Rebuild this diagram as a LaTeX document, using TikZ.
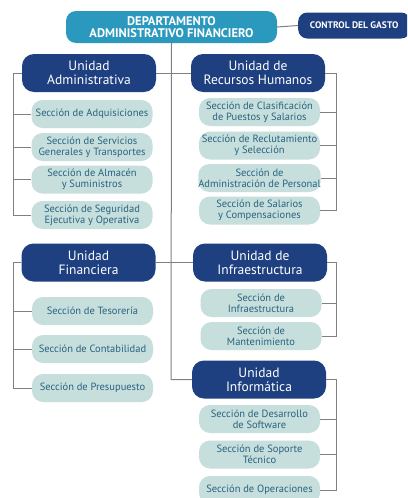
\documentclass[tikz,border=0pt]{standalone}
\usepackage{fontspec}
\setmainfont{PT Sans}
\definecolor{navy}{RGB}{30,64,128}
\definecolor{teal}{RGB}{43,153,190}
\definecolor{secfill}{RGB}{199,223,220}
\definecolor{sectext}{RGB}{40,98,128}
\definecolor{linegray}{RGB}{128,128,128}
\begin{document}
\begin{tikzpicture}[x=1pt,y=-1pt,
  head/.style={fill=teal,text=white,rounded corners=10pt,align=center,font=\bfseries\fontsize{12.5}{11.5}\selectfont,inner sep=0pt},
  ctrl/.style={fill=navy,text=white,rounded corners=9pt,align=center,font=\bfseries\fontsize{9.5}{10}\selectfont,inner sep=0pt},
  unit/.style={fill=navy,text=white,rounded corners=12pt,align=center,font=\fontsize{13.5}{14}\selectfont,inner sep=0pt,minimum width=134pt,minimum height=38pt},
  sec/.style={fill=secfill,text=sectext,rounded corners=11pt,align=center,font=\fontsize{10.5}{11}\selectfont,inner sep=0pt,minimum width=121pt,minimum height=28pt},
  conn/.style={draw=linegray,line width=1pt}]
\clip (0,0) rectangle (407,498);
\fill[white] (0,0) rectangle (407,498);
% header
\node[head,minimum width=211pt,minimum height=32pt] (dep) at (171.5,27) {DEPARTAMENTO\\ADMINISTRATIVO FINANCIERO};
\node[ctrl,minimum width=112pt,minimum height=26pt,anchor=west] (ctl) at (298,25.5) {CONTROL DEL GASTO};
% units
\node[unit] (ua) at (89,73) {Unidad\\Administrativa};
\node[unit] (urh) at (258,73) {Unidad de\\Recursos Humanos};
\node[unit] (uf) at (88.5,262.5) {Unidad\\Financiera};
\node[unit] (ui) at (260,262.5) {Unidad de\\Infraestructura};
\node[unit] (uinf) at (259,379.5) {Unidad\\Inform\'atica};
% admin sections
\node[sec] (a1) at (92,114) {Secci\'on de Adquisiciones};
\node[sec] (a2) at (92,147) {Secci\'on de Servicios\\Generales y Transportes};
\node[sec] (a3) at (92,179.5) {Secci\'on de Almac\'en\\y Suministros};
\node[sec] (a4) at (92,215) {Secci\'on de Seguridad\\Ejecutiva y Operativa};
% RH sections
\node[sec] (r1) at (259.5,112) {Secci\'on de Clasificaci\'on\\de Puestos y Salarios};
\node[sec] (r2) at (259.5,145.5) {Secci\'on de Reclutamiento\\y Selecci\'on};
\node[sec] (r3) at (259.5,178) {Secci\'on de\\Administraci\'on de Personal};
\node[sec] (r4) at (259.5,210.5) {Secci\'on de Salarios\\y Compensaciones};
% Finance sections
\node[sec] (f1) at (92.5,311) {Secci\'on de Tesorer\'ia};
\node[sec] (f2) at (92.5,349) {Secci\'on de Contabilidad};
\node[sec] (f3) at (92.5,388) {Secci\'on de Presupuesto};
% Infra sections
\node[sec] (i1) at (261,303) {Secci\'on de\\Infraestructura};
\node[sec] (i2) at (261,336) {Secci\'on de\\Mantenimiento};
% Informatica sections
\node[sec] (n1) at (259.5,419) {Secci\'on de Desarrollo\\de Software};
\node[sec] (n2) at (259.5,454.5) {Secci\'on de Soporte\\T\'ecnico};
\node[sec] (n3) at (259.5,490) {Secci\'on de Operaciones};
% bracket coordinates
\coordinate (trunk) at (171,0);
\coordinate (lb) at (13,0);
\coordinate (rb) at (336,0);
% connectors
\draw[conn] (dep.east) -- (ctl.west);
\draw[conn] (dep.south) -- (trunk |- uinf.west) -- (uinf.west);
\draw[conn] (ua.east) -- (urh.west);
\draw[conn] (uf.east) -- (ui.west);
% admin bracket
\draw[conn] (ua.west) -- (ua.west -| lb) -- (lb |- a4.west) -- (a4.west);
\foreach \s in {a1,a2,a3} \draw[conn] (\s.west -| lb) -- (\s.west);
% finance bracket
\draw[conn] (uf.west) -- (uf.west -| lb) -- (lb |- f3.west) -- (f3.west);
\foreach \s in {f1,f2} \draw[conn] (\s.west -| lb) -- (\s.west);
% RH bracket
\draw[conn] (urh.east) -- (urh.east -| rb) -- (rb |- r4.east) -- (r4.east);
\foreach \s in {r1,r2,r3} \draw[conn] (\s.east -| rb) -- (\s.east);
% infra bracket
\draw[conn] (ui.east) -- (ui.east -| rb) -- (rb |- i2.east) -- (i2.east);
\draw[conn] (i1.east -| rb) -- (i1.east);
% informatica bracket
\draw[conn] (uinf.east) -- (uinf.east -| rb) -- (rb |- n3.east) -- (n3.east);
\foreach \s in {n1,n2} \draw[conn] (\s.east -| rb) -- (\s.east);
\end{tikzpicture}
\end{document}
